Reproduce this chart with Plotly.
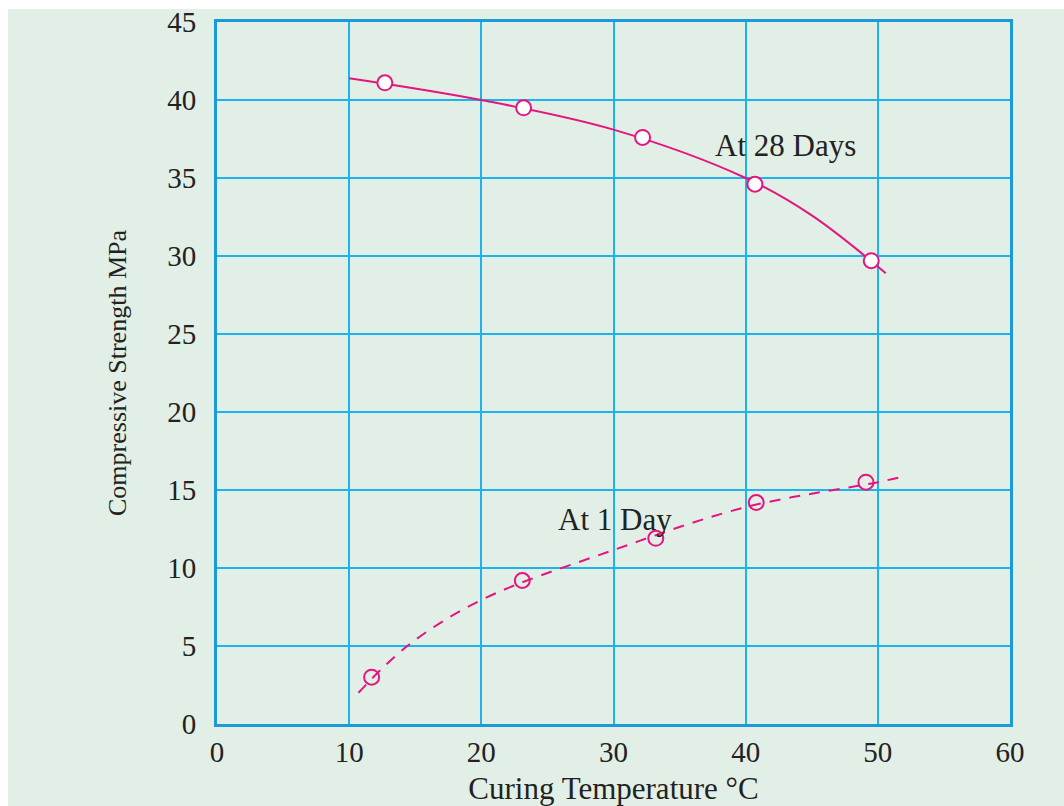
import plotly.graph_objects as go

# Measured strength points (°C, MPa)
temp_28d = [12.7, 23.2, 32.2, 40.7, 49.5]
strength_28d = [41.1, 39.5, 37.6, 34.6, 29.7]
temp_1d = [11.7, 23.1, 33.2, 40.8, 49.1]
strength_1d = [3.0, 9.2, 11.9, 14.2, 15.5]

# Fitted trend curves
curve_28d_x = [10.0, 20.0, 30.0, 40.0, 45.0, 50.6]
curve_28d_y = [41.4, 40.0, 38.1, 35.0, 32.6, 28.9]
curve_1d_x = [10.7, 14.4, 20.0, 30.0, 40.0, 50.0, 52.1]
curve_1d_y = [2.0, 5.0, 7.95, 11.15, 13.9, 15.5, 15.9]

x_ticks = [0, 10, 20, 30, 40, 50, 60]
y_ticks = [0, 5, 10, 15, 20, 25, 30, 35, 40, 45]

PINK = "#e5157f"
GRID = "#1db3ec"
FRAME = "#1a9bd8"
BG = "#e2efe6"
INK = "#222222"
SERIF = "Liberation Serif, Times New Roman, serif"

fig = go.Figure()

fig.add_trace(go.Scatter(x=curve_28d_x, y=curve_28d_y, mode="lines",
                         line=dict(color=PINK, width=2, shape="spline", smoothing=1.0),
                         hoverinfo="skip", showlegend=False))
fig.add_trace(go.Scatter(x=curve_1d_x, y=curve_1d_y, mode="lines",
                         line=dict(color=PINK, width=2, shape="spline", dash="11px,9px"),
                         hoverinfo="skip", showlegend=False))
fig.add_trace(go.Scatter(x=temp_28d, y=strength_28d, mode="markers",
                         marker=dict(symbol="circle", size=15, color="white",
                                     line=dict(color=PINK, width=2)),
                         name="At 28 Days", showlegend=False))
fig.add_trace(go.Scatter(x=temp_1d, y=strength_1d, mode="markers",
                         marker=dict(symbol="circle-open", size=15, color=PINK,
                                     line=dict(color=PINK, width=2)),
                         name="At 1 Day", showlegend=False))

fig.add_annotation(x=43.0, y=37.1, text="At 28 Days", showarrow=False,
                   font=dict(family=SERIF, size=31, color=INK))
fig.add_annotation(x=30.1, y=13.1, text="At 1 Day", showarrow=False,
                   font=dict(family=SERIF, size=31, color=INK))

# Light green page panel, leaving a thin white edge at top and left
plot_w = 1064 - 217 - 54
plot_h = 806 - 22 - 82
fig.add_shape(type="rect", xref="paper", yref="paper", layer="below",
              x0=(8 - 217) / plot_w, x1=(1064 - 217) / plot_w + 0.01,
              y0=-(806 - 724) / plot_h - 0.01, y1=(724 - 9) / plot_h,
              fillcolor=BG, line=dict(width=0))

axis_common = dict(showgrid=True, gridcolor=GRID, gridwidth=2,
                   zeroline=False, showline=True, linecolor=FRAME, linewidth=3,
                   mirror=True, ticks="", ticklen=0, automargin=False,
                   tickfont=dict(family=SERIF, size=29, color=INK))

fig.update_xaxes(range=[0, 60], tickvals=x_ticks, ticklabelstandoff=0,
                 title=dict(text="Curing Temperature °C", standoff=18,
                            font=dict(family=SERIF, size=31, color=INK)),
                 **axis_common)
fig.update_yaxes(range=[0, 45], tickvals=y_ticks, ticklabelstandoff=12,
                 title=dict(text="Compressive Strength MPa", standoff=34,
                            font=dict(family=SERIF, size=26, color=INK)),
                 **axis_common)

fig.update_layout(width=1064, height=806,
                  margin=dict(l=217, r=54, t=22, b=82),
                  paper_bgcolor="white", plot_bgcolor=BG,
                  showlegend=False)

fig.write_html("out.html")
